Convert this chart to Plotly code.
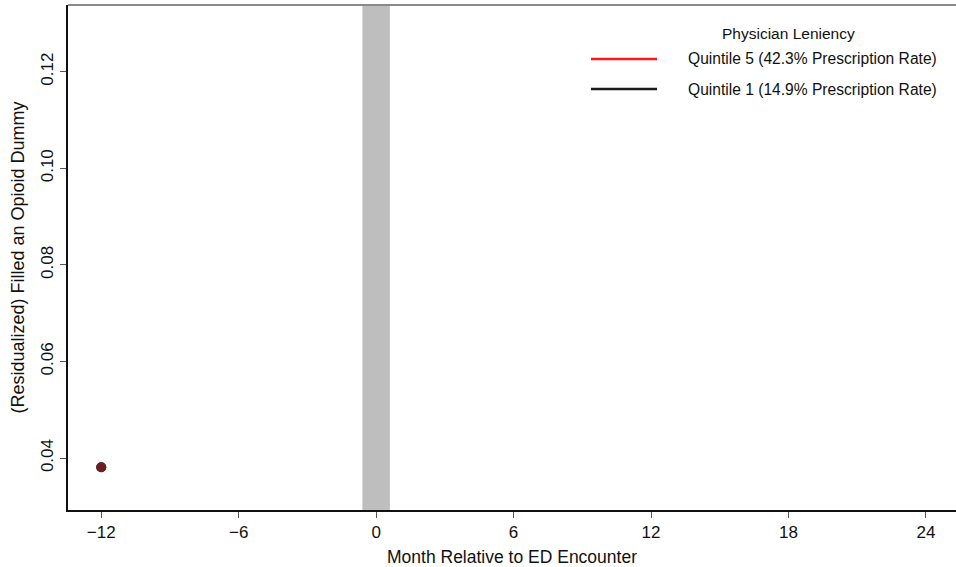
import plotly.graph_objects as go

# Data
months = [-12]
q5_values = [0.0381]   # Quintile 5 (42.3% Prescription Rate)
q1_values = [0.0381]   # Quintile 1 (14.9% Prescription Rate)
x_ticks = [-12, -6, 0, 6, 12, 18, 24]
y_ticks = [0.04, 0.06, 0.08, 0.10, 0.12]
y_tick_labels = ["0.04", "0.06", "0.08", "0.10", "0.12"]
series_names = ["Quintile 5 (42.3% Prescription Rate)", "Quintile 1 (14.9% Prescription Rate)"]
series_colors = ["#ff1a1a", "#1a1a1a"]
legend_title = "Physician Leniency"
band = [-0.6, 0.6]

FONT = "Liberation Sans, Arial, sans-serif"

fig = go.Figure()

fig.add_trace(go.Scatter(x=months, y=q1_values, mode="markers",
                         marker=dict(color="#1a1a1a", size=10), showlegend=False))
fig.add_trace(go.Scatter(x=months, y=q5_values, mode="markers",
                         marker=dict(color="#6e1e22", size=10), showlegend=False))

# event band
fig.add_shape(type="rect", xref="x", yref="paper", x0=band[0], x1=band[1], y0=0, y1=1,
              fillcolor="#bebebe", line=dict(width=0), layer="below")
# top frame line
fig.add_shape(type="line", xref="paper", yref="paper", x0=0, x1=1, y0=1, y1=1,
              line=dict(color="#8a8a8a", width=2), layer="above")

# manual legend
fig.add_annotation(xref="paper", yref="paper", x=(788 - 68) / 888, y=1 - (33 - 5) / 505,
                   text=legend_title, showarrow=False, xanchor="center", yanchor="middle",
                   font=dict(family=FONT, size=15.5, color="#111"))
for i, (nm, col) in enumerate(zip(series_names, series_colors)):
    ypix = 59 + 30 * i
    yp = 1 - (ypix - 5) / 505
    fig.add_shape(type="line", xref="paper", yref="paper",
                  x0=(591 - 68) / 888, x1=(657 - 68) / 888, y0=yp, y1=yp,
                  line=dict(color=col, width=2.5))
    fig.add_annotation(xref="paper", yref="paper", x=(686 - 68) / 888, y=yp,
                       text=nm, showarrow=False, xanchor="left", yanchor="middle",
                       font=dict(family=FONT, size=15.6, color="#111"))

fig.update_layout(
    width=956, height=567,
    margin=dict(l=68, r=0, t=5, b=57),
    paper_bgcolor="white", plot_bgcolor="white",
    font=dict(family=FONT, size=17, color="#111"),
    showlegend=False,
)
fig.update_xaxes(range=[-13.45, 25.31], tickvals=x_ticks, automargin=False,
                 ticktext=[("\u2212" + str(abs(v))) if v < 0 else str(v) for v in x_ticks],
                 showgrid=False, zeroline=False, showline=True, linecolor="#111", linewidth=1.5,
                 ticks="outside", ticklen=6, tickcolor="#555", tickwidth=1,
                 title=dict(text="Month Relative to ED Encounter", standoff=10,
                            font=dict(family=FONT, size=17.5)),
                 tickfont=dict(family=FONT, size=17))
fig.update_yaxes(range=[0.02925, 0.1338], tickvals=y_ticks, ticktext=y_tick_labels,
                 tickangle=-90, automargin=False,
                 showgrid=False, zeroline=False, showline=True, linecolor="#111", linewidth=1.5,
                 ticks="outside", ticklen=6, tickcolor="#555", tickwidth=1,
                 title=dict(text="(Residualized) Filled an Opioid Dummy", standoff=9,
                            font=dict(family=FONT, size=18)),
                 tickfont=dict(family=FONT, size=17))

fig.write_html("out.html", config={"displayModeBar": False},
               post_script="document.body.style.margin='0';document.body.style.overflow='hidden';")
